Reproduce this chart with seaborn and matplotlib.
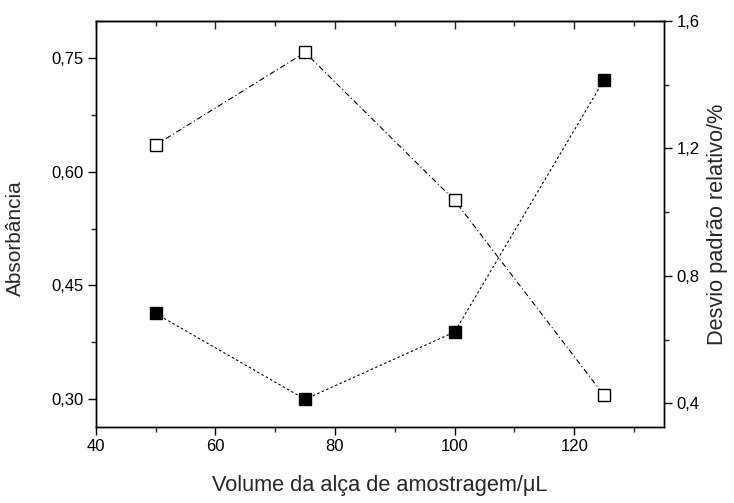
import matplotlib
matplotlib.use("Agg")
import matplotlib.pyplot as plt
from matplotlib.ticker import MultipleLocator, FuncFormatter
import seaborn as sns
import pandas as pd

# Loop volume (µL)
volume = [50, 75, 100, 125]
# Absorbance (open squares, left axis)
absorbancia = [0.635, 0.757, 0.562, 0.305]
# Relative standard deviation, % (filled squares, right axis)
dpr = [0.682, 0.413, 0.624, 1.415]

x_ticks = [40, 60, 80, 100, 120]
left_ticks = [0.30, 0.45, 0.60, 0.75]
right_ticks = [0.4, 0.8, 1.2, 1.6]

sns.set_theme(style="ticks")
plt.rcParams["font.family"] = ["Liberation Sans", "DejaVu Sans"]
plt.rcParams["axes.linewidth"] = 1.0

df = pd.DataFrame({"volume": volume, "abs": absorbancia, "dpr": dpr})

fig = plt.figure(figsize=(7.34, 5.03), dpi=100)
ax = fig.add_axes([0.1304, 0.1511, 0.9046 - 0.1304, 0.9588 - 0.1511])
ax2 = ax.twinx()

sns.lineplot(data=df, x="volume", y="abs", ax=ax, color="black",
             linewidth=0.8, linestyle=(0, (5, 2.5, 1, 2.5)),
             marker="s", markersize=8.5, markerfacecolor="white",
             markeredgecolor="black", markeredgewidth=1.0)
sns.lineplot(data=df, x="volume", y="dpr", ax=ax2, color="black",
             linewidth=0.8, linestyle=(0, (2.2, 2.2)),
             marker="s", markersize=8.5, markerfacecolor="black",
             markeredgecolor="black", markeredgewidth=1.0)

ax.set_xlim(40, 135)
ax.set_ylim(0.2635, 0.7988)
ax2.set_ylim(0.326, 1.6)

ax.set_xticks(x_ticks)
ax.xaxis.set_minor_locator(MultipleLocator(10))
ax.set_yticks(left_ticks)
ax.yaxis.set_minor_locator(MultipleLocator(0.075))
ax2.set_yticks(right_ticks)
ax2.yaxis.set_minor_locator(MultipleLocator(0.2))

ax.yaxis.set_major_formatter(FuncFormatter(lambda v, p: f"{v:.2f}".replace(".", ",")))
ax2.yaxis.set_major_formatter(FuncFormatter(lambda v, p: f"{v:.1f}".replace(".", ",")))
ax.xaxis.set_major_formatter(FuncFormatter(lambda v, p: f"{v:.0f}"))

for a in (ax, ax2):
    for s in a.spines.values():
        s.set_visible(True)
        s.set_linewidth(1.0)
        s.set_color("black")

ax.tick_params(axis="both", which="major", direction="out", length=5.5, width=1.0,
               labelsize=12, colors="black", top=False, right=False)
ax.tick_params(axis="both", which="minor", direction="out", length=3.3, width=1.0,
               top=False, right=False)
ax2.tick_params(axis="y", which="major", direction="out", length=5.5, width=1.0,
                labelsize=12, colors="black")
ax2.tick_params(axis="y", which="minor", direction="out", length=3.3, width=1.0)

# inward ticks along the top edge
top = ax.secondary_xaxis("top")
top.set_xticks(x_ticks)
top.xaxis.set_minor_locator(MultipleLocator(10))
top.tick_params(axis="x", which="major", direction="in", length=5.5, width=1.0, labeltop=False)
top.tick_params(axis="x", which="minor", direction="in", length=3.3, width=1.0)
top.spines["top"].set_linewidth(1.0)

ax.set_xlabel("Volume da alça de amostragem/\u03bcL", fontsize=15.7, labelpad=15)
ax.set_ylabel("Absorbância", fontsize=15, labelpad=14)
ax.yaxis.set_label_coords(-0.125, 0.465)
ax2.set_ylabel("Desvio padrão relativo/%", fontsize=15.7, labelpad=5)

fig.savefig("out.png", dpi=100)
